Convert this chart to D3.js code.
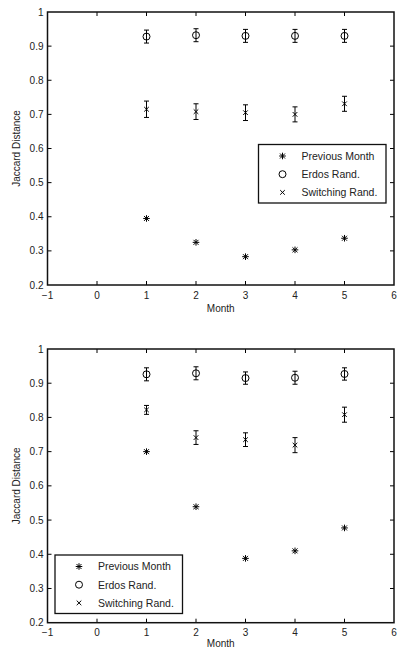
<!DOCTYPE html>
<html>
<head>
<meta charset="utf-8">
<script src="https://cdn.jsdelivr.net/npm/d3@7"></script>
<style>
body { margin: 0; background: #fff; }
svg { display: block; font-family: "Liberation Sans", Arial, sans-serif; }
.tick-label { font-size: 10px; fill: #222; }
.axis-title { font-size: 10px; fill: #222; }
.legend-text { font-size: 10.5px; fill: #222; }
</style>
</head>
<body>
<svg id="chart" width="399" height="649"></svg>
<script>
const months = [1, 2, 3, 4, 5]
const xTicks = [-1, 0, 1, 2, 3, 4, 5, 6]
const yTicks = [0.2, 0.3, 0.4, 0.5, 0.6, 0.7, 0.8, 0.9, 1]
const seriesNames = ['Previous Month', 'Erdos Rand.', 'Switching Rand.']

// top panel
const prevTop = [0.395, 0.325, 0.283, 0.303, 0.337]
const erdosTop = [0.928, 0.932, 0.930, 0.930, 0.930]
const erdosTopErr = [0.019, 0.019, 0.019, 0.019, 0.019]
const switchTop = [0.715, 0.708, 0.705, 0.700, 0.731]
const switchTopErr = [0.024, 0.023, 0.023, 0.022, 0.022]

// bottom panel
const prevBot = [0.700, 0.539, 0.388, 0.410, 0.477]
const erdosBot = [0.926, 0.929, 0.915, 0.916, 0.927]
const erdosBotErr = [0.019, 0.019, 0.018, 0.019, 0.018]
const switchBot = [0.822, 0.741, 0.735, 0.719, 0.808]
const switchBotErr = [0.013, 0.020, 0.020, 0.022, 0.022]

let svg = d3.select('#chart')

function panel(top, bottom, prev, erdos, erdosErr, sw, swErr, legendPos, titleOff) {

	let left = 47.5, right = 394

	let x = d3.scaleLinear().domain([-1, 6]).range([left, right])
	let y = d3.scaleLinear().domain([0.2, 1]).range([bottom, top])

	let g = svg.append('g')

	// ticks (inside, all four sides)
	g.selectAll('.xt')
		.data(xTicks.slice(1, -1))
		.enter()
		.append('path')
		.attr('d', d => `M${x(d)},${bottom}v-4M${x(d)},${top}v4`)
		.attr('stroke', '#000')
		.attr('stroke-width', 1)

	g.selectAll('.yt')
		.data(yTicks.slice(1, -1))
		.enter()
		.append('path')
		.attr('d', d => `M${left},${y(d)}h4M${right},${y(d)}h-4`)
		.attr('stroke', '#000')
		.attr('stroke-width', 1)

	g.append('rect')
		.attr('x', left)
		.attr('y', top)
		.attr('width', right - left)
		.attr('height', bottom - top)
		.attr('fill', 'none')
		.attr('stroke', '#111')
		.attr('stroke-width', 1.5)

	g.selectAll('.xl')
		.data(xTicks)
		.enter()
		.append('text')
		.attr('class', 'tick-label')
		.attr('x', d => x(d))
		.attr('y', bottom + 13.5)
		.attr('text-anchor', 'middle')
		.text(d => d < 0 ? '\u2212' + (-d) : d)

	g.selectAll('.yl')
		.data(yTicks)
		.enter()
		.append('text')
		.attr('class', 'tick-label')
		.attr('x', left - 4)
		.attr('y', d => y(d) + 3.5)
		.attr('text-anchor', 'end')
		.text(d => d === 1 ? '1' : d.toFixed(1))

	g.append('text')
		.attr('class', 'axis-title')
		.attr('x', (left + right) / 2)
		.attr('y', bottom + titleOff)
		.attr('text-anchor', 'middle')
		.text('Month')

	g.append('text')
		.attr('class', 'axis-title')
		.attr('transform', `translate(20,${(top + bottom) / 2}) rotate(-90)`)
		.attr('text-anchor', 'middle')
		.text('Jaccard Distance')

	// error bars
	let bars = [
		{ vals: erdos, errs: erdosErr },
		{ vals: sw, errs: swErr }
	]
	bars.forEach(b => {
		g.selectAll(null)
			.data(months)
			.enter()
			.append('path')
			.attr('d', (m, i) => {
				let cx = x(m), y0 = y(b.vals[i] - b.errs[i]), y1 = y(b.vals[i] + b.errs[i])
				return `M${cx},${y0}V${y1}M${cx - 2.5},${y0}h5M${cx - 2.5},${y1}h5`
			})
			.attr('stroke', '#000')
			.attr('stroke-width', 1)
			.attr('fill', 'none')
	})

	// markers
	g.selectAll(null)
		.data(months)
		.enter()
		.append('path')
		.attr('d', (m, i) => star(x(m), y(prev[i]), 3.3))
		.attr('stroke', '#000')
		.attr('stroke-width', 1)

	g.selectAll(null)
		.data(months)
		.enter()
		.append('circle')
		.attr('cx', m => x(m))
		.attr('cy', (m, i) => y(erdos[i]))
		.attr('r', 3.5)
		.attr('fill', 'none')
		.attr('stroke', '#000')
		.attr('stroke-width', 1)

	g.selectAll(null)
		.data(months)
		.enter()
		.append('path')
		.attr('d', (m, i) => cross(x(m), y(sw[i]), 2.3))
		.attr('stroke', '#000')
		.attr('stroke-width', 1)

	// legend
	let lg = g.append('g')
		.attr('transform', `translate(${legendPos[0]},${legendPos[1]})`)

	lg.append('rect')
		.attr('width', legendPos[2])
		.attr('height', 58.5)
		.attr('fill', '#fff')
		.attr('stroke', '#111')
		.attr('stroke-width', 1.3)

	seriesNames.forEach((name, i) => {
		let ry = 11.5 + i * 18.2
		if (i === 0) {
			lg.append('path').attr('d', star(24, ry, 3.3)).attr('stroke', '#000').attr('stroke-width', 1)
		} else if (i === 1) {
			lg.append('circle').attr('cx', 24).attr('cy', ry).attr('r', 3.5)
				.attr('fill', 'none').attr('stroke', '#000').attr('stroke-width', 1)
		} else {
			lg.append('path').attr('d', cross(24, ry, 2.3)).attr('stroke', '#000').attr('stroke-width', 1)
		}
		lg.append('text')
			.attr('class', 'legend-text')
			.attr('x', 43)
			.attr('y', ry + 3.8)
			.text(name)
	})
}

function star(cx, cy, r) {
	let d = cross(cx, cy, r * 0.75)
	d += `M${cx - r},${cy}h${2 * r}M${cx},${cy - r}v${2 * r}`
	return d
}

function cross(cx, cy, r) {
	return `M${cx - r},${cy - r}L${cx + r},${cy + r}M${cx - r},${cy + r}L${cx + r},${cy - r}`
}

panel(12, 285, prevTop, erdosTop, erdosTopErr, switchTop, switchTopErr, [258.5, 144.5, 127.5], 26.5)
panel(349, 622.7, prevBot, erdosBot, erdosBotErr, switchBot, switchBotErr, [55, 555, 127.5], 24.3)
</script>
</body>
</html>
